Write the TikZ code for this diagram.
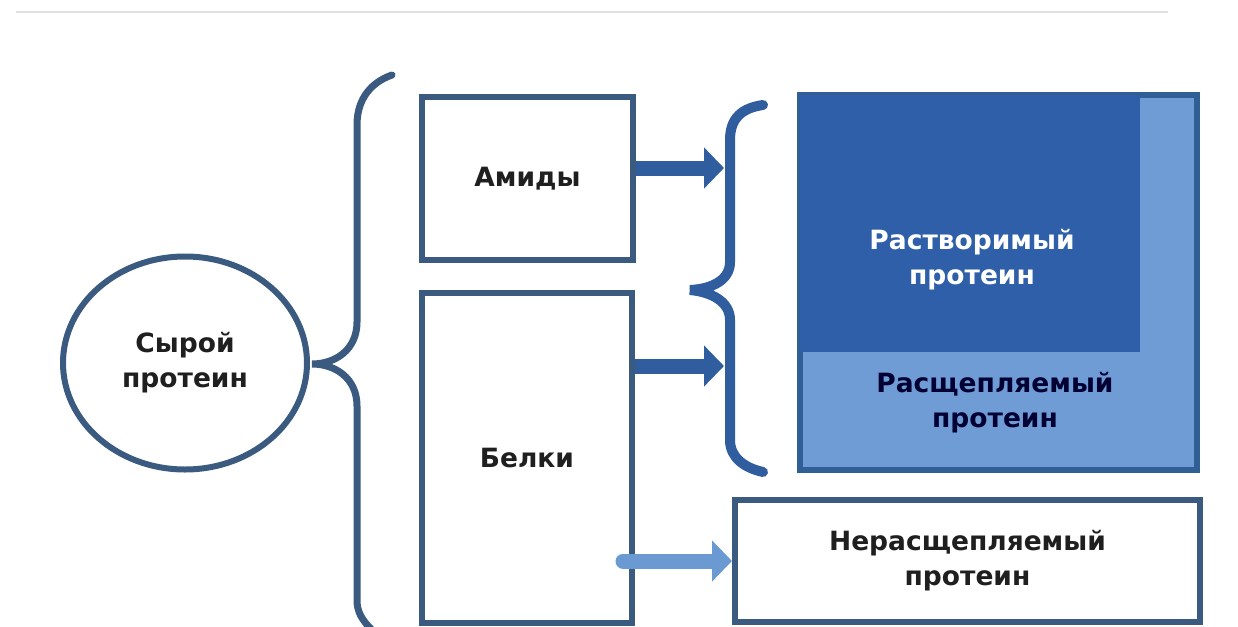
\documentclass[tikz,border=0pt]{standalone}
\usepackage{fontspec}
\setmainfont{DejaVu Sans}
\usepackage{xcolor}
\usetikzlibrary{arrows.meta, positioning, shapes.geometric}

\definecolor{edge}{HTML}{3A5A80}
\definecolor{dblue}{HTML}{2E5FA8}
\definecolor{lblue}{HTML}{6F9CD5}
\definecolor{bedge}{HTML}{2F5F95}
\definecolor{arr}{HTML}{2F5D9E}
\definecolor{arrl}{HTML}{6B9AD2}

\begin{document}
\begin{tikzpicture}[
  x=1pt, y=-1pt,
  every node/.style={font=\bfseries\fontsize{26.5}{35}\selectfont, text=black!88},
  box/.style={draw=edge, line width=6pt, rectangle, fill=white, align=center},
  arrow/.style={-{Triangle[length=20pt, width=40pt]}, line width=15pt, draw=arr},
  brace/.style={draw=edge, line width=7pt, line cap=round},
]
\fill[white] (0,0) rectangle (1238,626);
\useasboundingbox (0,0) rectangle (1238,626);
\draw[black!12, line width=2pt] (16,12) -- (1168,12);

\node[box, ellipse, minimum width=244pt, minimum height=213pt] (raw) at (185,363) {Сырой\\протеин};
\node[box, minimum width=211pt, minimum height=163pt] (amid) at (527.5,178.5) {Амиды};
\node[box, minimum width=210pt, minimum height=330pt] (belki) at (527,458) {Белки};

\node[box, draw=bedge, fill=lblue, minimum width=397pt, minimum height=375pt] (prot) at (998.5,282.5) {};
\node[fill=dblue, inner sep=0pt, anchor=north west, minimum width=340pt, minimum height=257pt]
  (sol) at ([xshift=3pt, yshift=-3pt]prot.north west) {};
\node[text=white, align=center] (soltxt) at (972,260) {Растворимый\\протеин};
\node[text={black!80!blue}, align=center] (rasc) at (995,403) {Расщепляемый\\протеин};
\node[box, minimum width=465pt, minimum height=122pt] (nerasc) at (967.5,561) {Нерасщепляемый\\протеин};

\coordinate (tipA) at (724,168);
\coordinate (tipB) at (724,366);
\coordinate (lstart) at ([xshift=-12pt]belki.east);
\coordinate (braceA) at (312,364);
\coordinate (braceB) at (690,290);

\draw[brace] (392,75) .. controls (372,82) and (357,98) .. (357,125) -- (357,322)
  .. controls (357,350) and (335,364) .. (braceA)
  .. controls (335,364) and (357,378) .. (357,406) -- (357,600)
  .. controls (357,612) and (362,620) .. (372,630);
\draw[brace, draw=arr, line width=10pt] (763,105) .. controls (742,108) and (730,118) .. (730,140) -- (730,262)
  .. controls (730,280) and (712,289) .. (braceB)
  .. controls (712,292) and (730,302) .. (730,320) -- (730,440)
  .. controls (730,458) and (745,468) .. (763,472);

\draw[arrow] (amid.east |- tipA) -- (tipA);
\draw[arrow] (belki.east |- tipB) -- (tipB);
\draw[arrow, draw=arrl, line cap=round] (lstart |- nerasc.west) -- (nerasc.west);
\end{tikzpicture}
\end{document}
